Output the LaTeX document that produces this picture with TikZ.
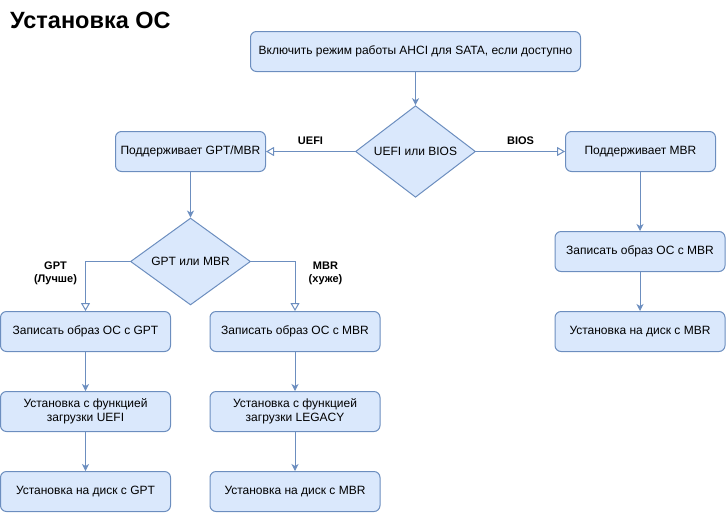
\documentclass[tikz,border=0pt]{standalone}
\usepackage{fontspec}
\setmainfont{Liberation Sans}
\usetikzlibrary{shapes.geometric,arrows.meta}
\definecolor{boxfill}{HTML}{DAE8FC}
\definecolor{boxline}{HTML}{6C8EBF}

\begin{document}
\begin{tikzpicture}[x=1pt,y=-1pt,
  every node/.style={font=\fontsize{12}{14}\selectfont},
  box/.style={draw=boxline,fill=boxfill,rounded corners=6pt,line width=1pt,
    minimum height=40pt,inner sep=0pt,align=center},
  choice/.style={draw=boxline,fill=boxfill,diamond,line width=1pt,
    minimum width=120pt,minimum height=80pt,inner sep=0pt},
  link/.style={draw=boxline,line width=1pt,-{Stealth[length=7pt,width=7pt,inset=2pt]}},
  branch/.style={draw=boxline,line width=1pt,-{Triangle[open,length=8pt,width=9pt]}},
  tag/.style={font=\fontsize{11}{13}\selectfont\bfseries,align=center,inner sep=0pt}]

\useasboundingbox (0,0) rectangle (727,512);

% title
\node[anchor=base west,inner sep=0pt,font=\fontsize{23.5}{27}\selectfont\bfseries] (title) at (10,28) {Установка ОС};

% top and first choice
\node[box,minimum width=330pt] (ahci) at (415.5,51.5) {Включить режим работы AHCI для SATA, если доступно};
\node[choice] (boot) at (415.5,151.5) {UEFI или BIOS};
\node[box,minimum width=150pt] (both) at (190.5,151.5) {Поддерживает GPT/MBR};
\node[box,minimum width=150pt] (mbronly) at (640.5,151.5) {Поддерживает MBR};

% second choice
\node[choice] (table) at (190.5,261.5) {GPT или MBR};

% GPT column
\node[box,minimum width=170pt] (gptimg) at (85.5,331.5) {Записать образ ОС с GPT};
\node[box,minimum width=170pt] (uefiboot) at (85.5,411.5) {Установка с функцией\\загрузки UEFI};
\node[box,minimum width=170pt] (gptdisk) at (85.5,491.5) {Установка на диск с GPT};

% MBR column
\node[box,minimum width=170pt] (mbrimg) at (295,331.5) {Записать образ ОС с MBR};
\node[box,minimum width=170pt] (legacyboot) at (295,411.5) {Установка с функцией\\загрузки LEGACY};
\node[box,minimum width=170pt] (mbrdisk) at (295,491.5) {Установка на диск с MBR};

% BIOS column
\node[box,minimum width=170pt] (biosimg) at (640,251.5) {Записать образ ОС с MBR};
\node[box,minimum width=170pt] (biosdisk) at (640,331.5) {Установка на диск с MBR};

\draw[link] (ahci) -- (boot);
\draw[branch] (boot) -- node[tag,midway,yshift=11pt] {UEFI} (both);
\draw[branch] (boot) -- node[tag,midway,yshift=11pt] {BIOS} (mbronly);
\draw[link] (both) -- (table);
\draw[branch] (table.west) -| node[tag,pos=0.5,xshift=-30pt,yshift=-12pt] {GPT\\(Лучше)} (gptimg.north);
\draw[branch] (table.east) -| node[tag,pos=0.5,xshift=30.5pt,yshift=-12pt] {MBR\\(хуже)} (mbrimg.north);
\draw[link] (gptimg) -- (uefiboot);
\draw[link] (uefiboot) -- (gptdisk);
\draw[link] (mbrimg) -- (legacyboot);
\draw[link] (legacyboot) -- (mbrdisk);
\draw[link] (mbronly.south -| biosimg) -- (biosimg);
\draw[link] (biosimg) -- (biosdisk);

\end{tikzpicture}
\end{document}
